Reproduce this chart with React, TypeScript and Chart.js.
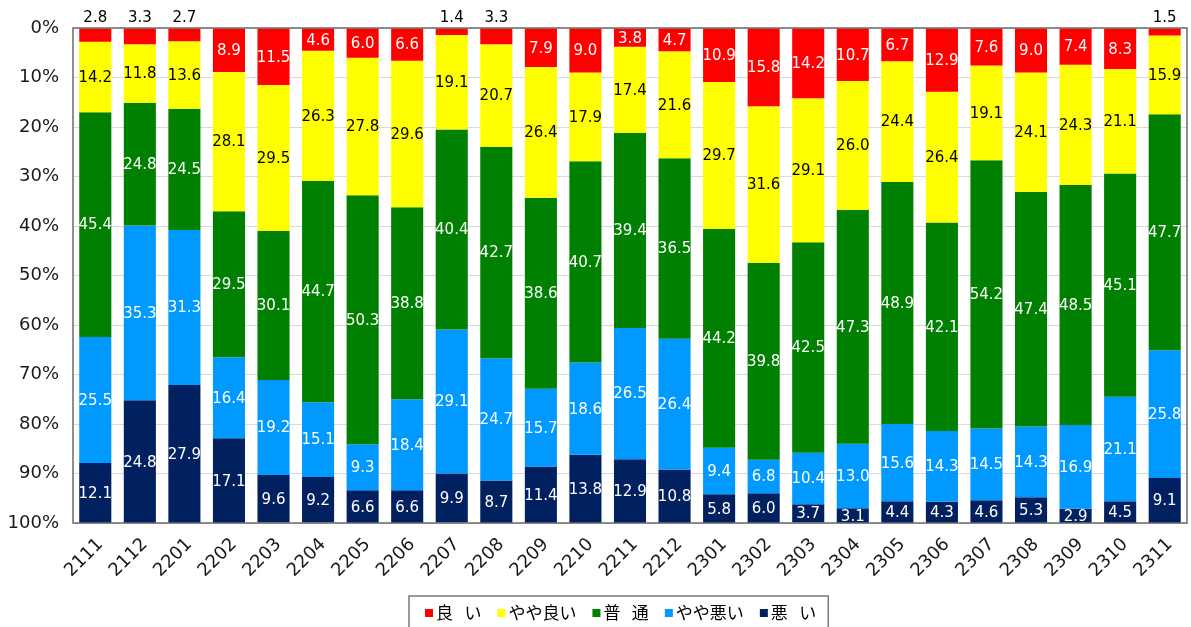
import React, { useEffect, useRef } from "react";
import { Chart, registerables } from "chart.js";

Chart.register(...registerables);

const categories = [
  "2111", "2112", "2201", "2202", "2203", "2204", "2205", "2206", "2207", "2208",
  "2209", "2210", "2211", "2212", "2301", "2302", "2303", "2304", "2305", "2306",
  "2307", "2308", "2309", "2310", "2311",
];

const good = [2.8, 3.3, 2.7, 8.9, 11.5, 4.6, 6.0, 6.6, 1.4, 3.3, 7.9, 9.0, 3.8, 4.7, 10.9, 15.8, 14.2, 10.7, 6.7, 12.9, 7.6, 9.0, 7.4, 8.3, 1.5];
const fairlyGood = [14.2, 11.8, 13.6, 28.1, 29.5, 26.3, 27.8, 29.6, 19.1, 20.7, 26.4, 17.9, 17.4, 21.6, 29.7, 31.6, 29.1, 26.0, 24.4, 26.4, 19.1, 24.1, 24.3, 21.1, 15.9];
const normal = [45.4, 24.8, 24.5, 29.5, 30.1, 44.7, 50.3, 38.8, 40.4, 42.7, 38.6, 40.7, 39.4, 36.5, 44.2, 39.8, 42.5, 47.3, 48.9, 42.1, 54.2, 47.4, 48.5, 45.1, 47.7];
const fairlyBad = [25.5, 35.3, 31.3, 16.4, 19.2, 15.1, 9.3, 18.4, 29.1, 24.7, 15.7, 18.6, 26.5, 26.4, 9.4, 6.8, 10.4, 13.0, 15.6, 14.3, 14.5, 14.3, 16.9, 21.1, 25.8];
const bad = [12.1, 24.8, 27.9, 17.1, 9.6, 9.2, 6.6, 6.6, 9.9, 8.7, 11.4, 13.8, 12.9, 10.8, 5.8, 6.0, 3.7, 3.1, 4.4, 4.3, 4.6, 5.3, 2.9, 4.5, 9.1];

const seriesLabels = ["良   い", "やや良い", "普   通", "やや悪い", "悪   い"];
const seriesValues = [good, fairlyGood, normal, fairlyBad, bad];
const seriesColors = ["#FF0000", "#FFFF00", "#008000", "#0099FF", "#002060"];
const labelColors = ["#FFFFFF", "#000000", "#FFFFFF", "#FFFFFF", "#FFFFFF"];

const yTickValues = [0, 10, 20, 30, 40, 50, 60, 70, 80, 90, 100];

const OUTSIDE_THRESHOLD = 3.5;

const valueLabelPlugin = {
  id: "valueLabels",
  afterDatasetsDraw(chart: any) {
    const ctx = chart.ctx;
    const area = chart.chartArea;
    ctx.save();
    ctx.font = "15px 'DejaVu Sans'";
    ctx.textAlign = "center";
    ctx.textBaseline = "middle";
    chart.data.datasets.forEach((ds: any, di: number) => {
      const meta = chart.getDatasetMeta(di);
      meta.data.forEach((bar: any, i: number) => {
        const v = ds.data[i];
        const txt = v.toFixed(1);
        const cx = bar.x;
        if (di === 0 && v < OUTSIDE_THRESHOLD) {
          ctx.fillStyle = "#000000";
          ctx.fillText(txt, cx, area.top - 10);
        } else {
          const cy = (bar.y + bar.base) / 2;
          ctx.fillStyle = labelColors[di];
          ctx.fillText(txt, cx, cy + 1);
        }
      });
    });
    ctx.restore();
  },
};

const frameAndLegendPlugin = {
  id: "frameAndLegend",
  afterDraw(chart: any) {
    const ctx = chart.ctx;
    const a = chart.chartArea;
    ctx.save();
    ctx.strokeStyle = "#6b6b6b";
    ctx.lineWidth = 1.5;
    ctx.strokeRect(a.left, a.top, a.right - a.left, a.bottom - a.top);

    // legend
    ctx.font = "17px 'Noto Sans CJK JP'";
    ctx.textBaseline = "middle";
    ctx.textAlign = "left";
    const boxSize = 8;
    const boxGap = 3;
    const itemGap = 16;
    const startX = 425;
    const midY = 613;
    let x = startX;
    chart.data.datasets.forEach((ds: any) => {
      ctx.fillStyle = ds.backgroundColor;
      ctx.fillRect(x, midY - boxSize / 2, boxSize, boxSize);
      x += boxSize + boxGap;
      ctx.fillStyle = "#000000";
      ctx.fillText(ds.label, x, midY);
      x += ctx.measureText(ds.label).width + itemGap;
    });
    const endX = x - itemGap;
    ctx.strokeStyle = "#7a7a7a";
    ctx.lineWidth = 1.5;
    ctx.strokeRect(409, 596, endX - 409 + 12, 50);
    ctx.restore();
  },
};

export default function App() {
  const canvasRef = useRef<HTMLCanvasElement | null>(null);

  useEffect(() => {
    if (!canvasRef.current) return;
    const chart = new Chart(canvasRef.current, {
      type: "bar",
      data: {
        labels: categories,
        datasets: seriesValues.map((vals, i) => ({
          label: seriesLabels[i],
          data: vals,
          backgroundColor: seriesColors[i],
          borderWidth: 0,
          barPercentage: 0.72,
          categoryPercentage: 1,
        })),
      },
      options: {
        responsive: false,
        animation: false,
        layout: { padding: { top: 28, right: 1, left: 0, bottom: 0 } },
        plugins: {
          legend: { display: false },
          tooltip: { enabled: false },
        },
        scales: {
          x: {
            stacked: true,
            grid: { display: false, drawTicks: false },
            border: { display: false },
            ticks: {
              font: { family: "'DejaVu Sans'", size: 18 },
              color: "#1a1a1a",
              minRotation: 45,
              maxRotation: 45,
              autoSkip: false,
              padding: 11,
              labelOffset: 5,
            },
            afterFit(scale: any) {
              scale.height = 104;
            },
          },
          y: {
            stacked: true,
            reverse: true,
            min: 0,
            max: 100,
            afterBuildTicks(scale: any) {
              scale.ticks = yTickValues.map((v) => ({ value: v }));
            },
            grid: { color: "#d9d9d9", drawTicks: false, lineWidth: 1 },
            border: { display: false },
            ticks: {
              font: { family: "'DejaVu Sans'", size: 18 },
              color: "#1a1a1a",
              padding: 14,
              callback: (v: any) => v + "%",
            },
            afterFit(scale: any) {
              scale.width = 73;
            },
          },
        },
      },
      plugins: [valueLabelPlugin, frameAndLegendPlugin],
    });
    return () => chart.destroy();
  }, []);

  return (
    <div style={{ position: "fixed", left: 0, top: 0, width: 1191, height: 627, background: "#fff" }}>
      <canvas ref={canvasRef} width={1191} height={627} style={{ display: "block" }} />
    </div>
  );
}
